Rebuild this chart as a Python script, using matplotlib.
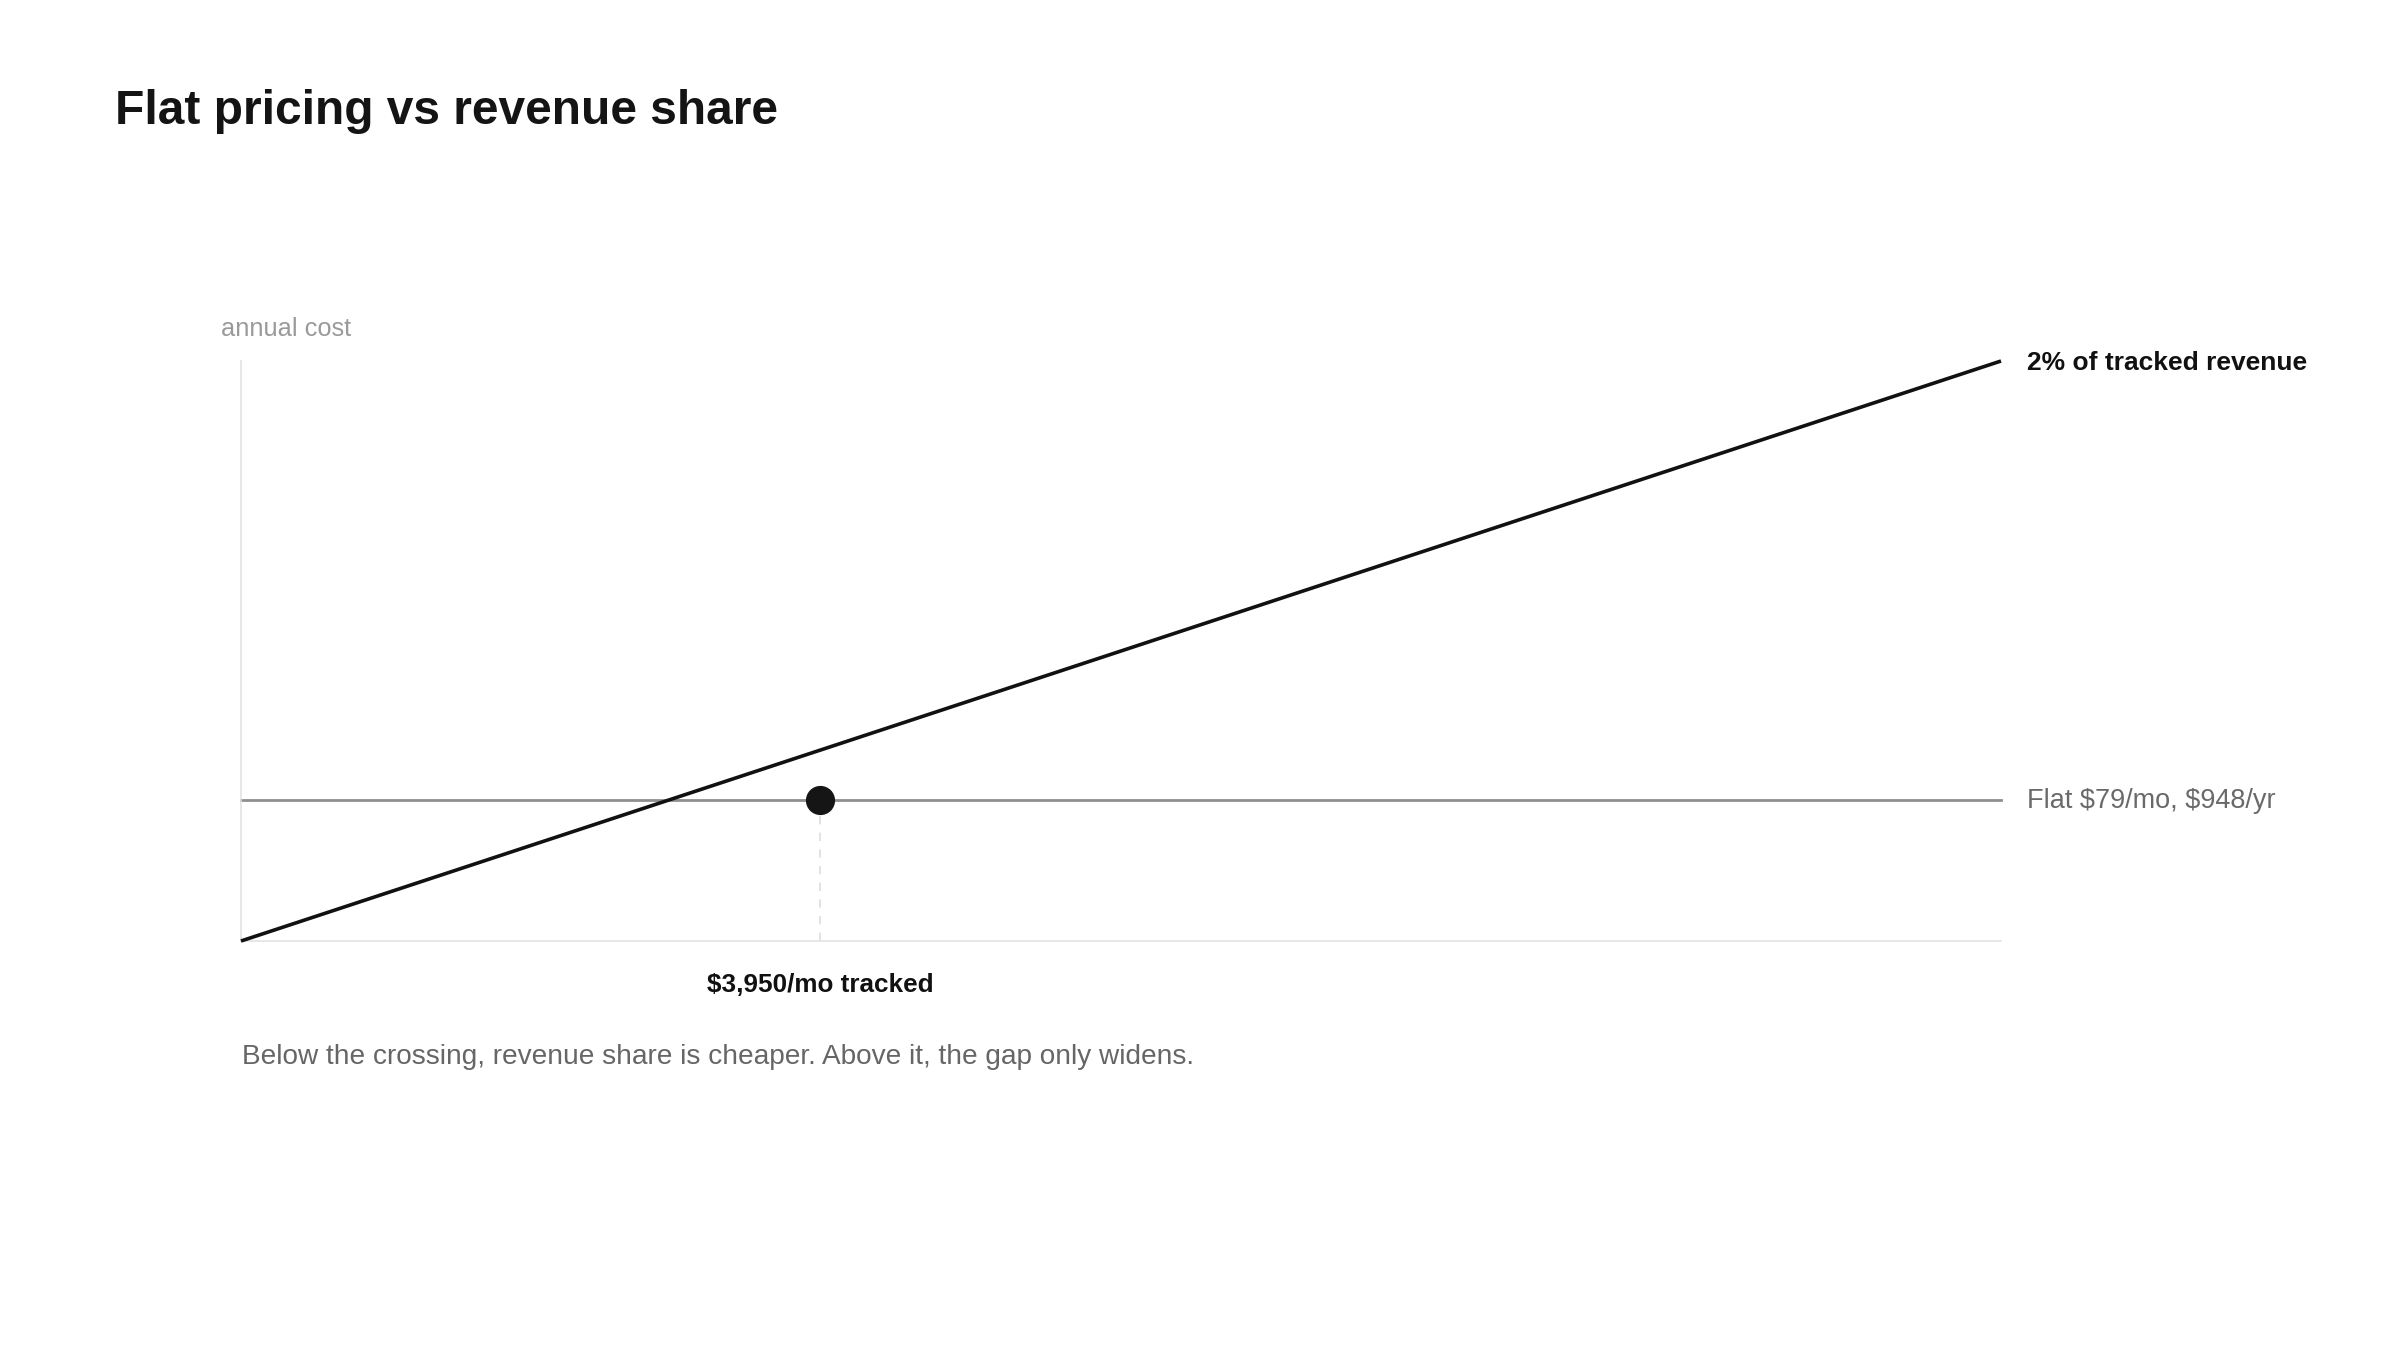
import matplotlib
matplotlib.use("Agg")
import matplotlib.pyplot as plt

plt.rcParams['font.family'] = ['Liberation Sans', 'DejaVu Sans']
plt.rcParams['text.parse_math'] = False

# tracked revenue ($/mo) on x, annual cost ($/yr) on y
revenue = [0, 12000]
share_cost = [0, 3900]
flat_cost = 948
crossing_rev = 3950

title = "Flat pricing vs revenue share"
y_label = "annual cost"
share_label = "2% of tracked revenue"
flat_label = "Flat $79/mo, $948/yr"
cross_label = "$3,950/mo tracked"
caption = "Below the crossing, revenue share is cheaper. Above it, the gap only widens."

W, H = 2400, 1350
fig = plt.figure(figsize=(24, 13.5), dpi=100)
ax = fig.add_axes([241 / W, 1 - 941 / H, (2001 - 241) / W, (941 - 361) / H])

ax.plot(revenue, share_cost, color='#111111', lw=2.6, solid_capstyle='butt', zorder=3, clip_on=False)
ax.plot(revenue, [flat_cost, flat_cost], color='#8f8f8f', lw=2.0, zorder=2, clip_on=False)
ax.plot([crossing_rev, crossing_rev], [0, flat_cost], color='#dddddd', lw=1.2,
        ls=(0, (5, 5)), zorder=1, clip_on=False)
ax.plot([crossing_rev], [flat_cost], 'o', color='#151515', ms=20, zorder=4, clip_on=False)

ax.set_xlim(revenue[0], revenue[-1])
ax.set_ylim(0, share_cost[-1])
for s in ['top', 'right']:
    ax.spines[s].set_visible(False)
for s in ['left', 'bottom']:
    ax.spines[s].set_color('#e0e0e0')
    ax.spines[s].set_linewidth(1.1)
ax.set_xticks([])
ax.set_yticks([])

ax.annotate(share_label, xy=(revenue[-1], share_cost[-1]), xytext=(19, -1.5),
            textcoords='offset points', ha='left', va='center',
            fontsize=19, fontweight='bold', color='#111111')
ax.annotate(flat_label, xy=(revenue[-1], flat_cost), xytext=(19, -1),
            textcoords='offset points', ha='left', va='center',
            fontsize=19.5, color='#6a6a6a')
ax.annotate(cross_label, xy=(crossing_rev, 0), xytext=(0, -37),
            textcoords='offset points', ha='center', va='baseline',
            fontsize=18.8, fontweight='bold', color='#111111')

fig.text(115 / W, 1 - 124 / H, title, ha='left', va='baseline',
         fontsize=34.5, fontweight='bold', color='#141414')
fig.text(221 / W, 1 - 336 / H, y_label, ha='left', va='baseline',
         fontsize=18.3, color='#9a9a9a')
fig.text(242 / W, 1 - 1064 / H, caption, ha='left', va='baseline',
         fontsize=20.15, color='#666666')

fig.savefig('out.png', dpi=100, facecolor='white')
